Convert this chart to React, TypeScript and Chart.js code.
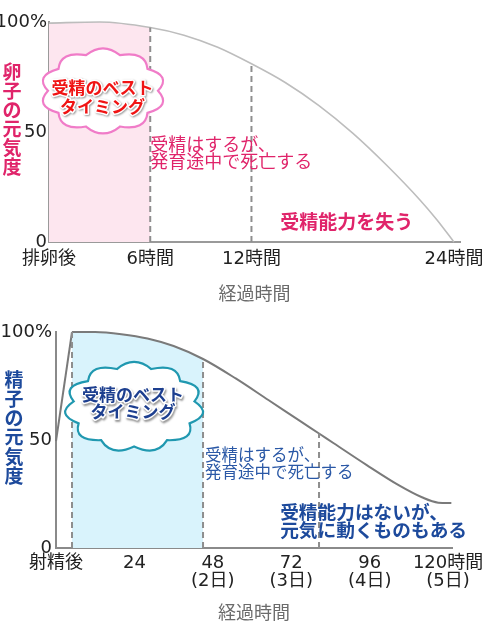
import { useEffect, useRef } from 'react';
import { Chart, registerables } from 'chart.js';

Chart.register(...registerables);

const FONT = "'Noto Sans CJK JP', 'Noto Sans', sans-serif";
const NUM_FONT = "'DejaVu Sans', 'Noto Sans CJK JP', sans-serif";
Chart.defaults.font.family = FONT;

// 卵子: 排卵後の経過時間 (h) と元気度 (%)
const eggHours = [0, 3, 6, 8, 10, 12, 14, 16, 18, 20, 22, 23, 24];
const eggVitality = [99.5, 100, 97.5, 94, 88.5, 81, 72.5, 62, 49.5, 35, 19, 10, 0];
const eggBest = [0, 6];
const eggDashHours = [6, 12];
const eggTickHours = [0, 6, 12, 24];
const eggTickLabels = ['排卵後', '6時間', '12時間', '24時間'];

// 精子: 射精後の経過時間 (h) と元気度 (%)
const spermRiseHours = [0, 4.9];
const spermRiseVitality = [49.5, 100];
const spermHours = [4.9, 12, 20, 28, 36, 45, 55, 65, 75, 80.5, 85, 95, 105, 112, 117, 121];
const spermVitality = [100, 100, 99, 97, 93.5, 87.5, 78.5, 68.5, 58.5, 53, 48.5, 38.5, 29, 23.5, 21, 20.8];
const spermBest = [4.9, 45];
const spermDashHours = [4.9, 45, 80.5];
const spermTickHours = [0, 24, 48, 72, 96, 120];
const spermTickLabels = [['射精後'], ['24'], ['48', '(2日)'], ['72', '(3日)'], ['96', '(4日)'], ['120時間', '(5日)']];

const vitalityTicks = [0, 50, 100];

const CRIMSON = '#e0246a';
const NAVY = '#1d4a9c';

const toPoints = (xs: number[], ys: number[]) => xs.map((x, i) => ({ x, y: ys[i] }));

function cloudPath(ctx: CanvasRenderingContext2D, cx: number, cy: number, rx: number, ry: number, bumps: number) {
  const start = -Math.PI / 2 - Math.PI / bumps;
  ctx.beginPath();
  for (let i = 0; i < bumps; i++) {
    const a0 = start + (i / bumps) * Math.PI * 2;
    const a1 = start + ((i + 1) / bumps) * Math.PI * 2;
    const am = (a0 + a1) / 2;
    if (i === 0) ctx.moveTo(cx + rx * Math.cos(a0), cy + ry * Math.sin(a0));
    ctx.quadraticCurveTo(
      cx + rx * 1.32 * Math.cos(am), cy + ry * 1.32 * Math.sin(am),
      cx + rx * Math.cos(a1), cy + ry * Math.sin(a1),
    );
  }
  ctx.closePath();
}

// clouds, notes and the upright vertical y title
function extrasPlugin(o: any) {
  return {
    id: 'extras',
    afterDatasetsDraw(chart: any) {
      const { ctx } = chart;
      const xs = chart.scales.x;
      const ys = chart.scales.y;
      ctx.save();

      const cx = xs.getPixelForValue(o.cloud.x);
      const cy = ys.getPixelForValue(o.cloud.y);
      cloudPath(ctx, cx, cy, o.cloud.rx, o.cloud.ry, o.cloud.bumps);
      ctx.fillStyle = '#fff';
      ctx.fill();
      ctx.lineWidth = 2.2;
      ctx.strokeStyle = o.cloud.stroke;
      ctx.stroke();

      const tx = xs.getPixelForValue(o.cloudText.x);
      const ty = ys.getPixelForValue(o.cloudText.y);
      ctx.font = `bold 17px ${FONT}`;
      ctx.textAlign = 'center';
      ctx.textBaseline = 'middle';
      o.cloudText.lines.forEach((line: string, i: number) => {
        const ly = ty + (i - (o.cloudText.lines.length - 1) / 2) * o.cloudText.gap;
        ctx.save();
        ctx.shadowColor = 'rgba(0,0,0,0.4)';
        ctx.shadowBlur = 2;
        ctx.shadowOffsetX = 1;
        ctx.shadowOffsetY = 1.5;
        ctx.lineWidth = 3;
        ctx.lineJoin = 'round';
        ctx.strokeStyle = '#fff';
        ctx.strokeText(line, tx, ly);
        ctx.restore();
        ctx.fillStyle = o.cloudText.color;
        ctx.fillText(line, tx, ly);
      });

      ctx.textAlign = 'left';
      o.notes.forEach((n: any) => {
        const nx = xs.getPixelForValue(n.x);
        const ny = ys.getPixelForValue(n.y);
        ctx.font = n.font;
        ctx.fillStyle = n.color;
        n.lines.forEach((line: string, i: number) => {
          ctx.fillText(line, nx, ny + (i - (n.lines.length - 1) / 2) * n.gap);
        });
      });

      ctx.font = `bold 19px ${FONT}`;
      ctx.textAlign = 'center';
      ctx.fillStyle = o.yTitle.color;
      Array.from(o.yTitle.text as string).forEach((ch, i) => {
        ctx.fillText(ch, o.yTitle.x, o.yTitle.top + i * o.yTitle.step);
      });
      ctx.restore();
    },
  };
}

function eggConfig(): any {
  const curve = toPoints(eggHours, eggVitality);
  return {
    type: 'line',
    data: {
      datasets: [
        ...eggDashHours.map((h) => ({
          data: [{ x: h, y: 0 }, { x: h, y: eggVitality[eggHours.indexOf(h)] }],
          borderColor: '#8e8e8e', borderWidth: 2, borderDash: [6, 4], pointRadius: 0, order: 1,
        })),
        { data: curve, borderColor: '#bdbdbd', borderWidth: 1.6, pointRadius: 0, cubicInterpolationMode: 'monotone', clip: 4, order: 2 },
        {
          data: curve.filter((p) => p.x >= eggBest[0] && p.x <= eggBest[1]),
          borderWidth: 0, pointRadius: 0, cubicInterpolationMode: 'monotone',
          fill: 'origin', backgroundColor: '#fde6ef', order: 3,
        },
      ],
    },
    options: {
      responsive: true,
      maintainAspectRatio: false,
      animation: false,
      events: [],
      layout: { padding: { left: 0, top: 22, right: 26, bottom: 0 } },
      plugins: { legend: { display: false }, tooltip: { enabled: false } },
      scales: {
        x: {
          type: 'linear', min: 0, max: 24.36,
          afterBuildTicks: (s: any) => { s.ticks = eggTickHours.map((value) => ({ value })); },
          afterFit: (s: any) => { s.height = 68; s.paddingLeft = 0; s.paddingRight = 0; },
          grid: { display: false, drawTicks: false },
          border: { display: true, color: '#9a9a9a', width: 2 },
          ticks: {
            autoSkip: false, maxRotation: 0, padding: 7, color: '#222',
            font: { family: NUM_FONT, size: 18 },
            callback: (_v: any, i: number) => eggTickLabels[i],
          },
          title: { display: true, text: '経過時間', color: '#6b6b6b', font: { family: FONT, size: 18 }, padding: { top: 0, bottom: 6 } },
        },
        y: {
          min: 0, max: 100,
          afterBuildTicks: (s: any) => { s.ticks = vitalityTicks.map((value) => ({ value })); },
          afterFit: (s: any) => { s.width = 49; s.paddingTop = 0; s.paddingBottom = 0; },
          grid: { display: false, drawTicks: false },
          border: { display: true, color: '#9a9a9a', width: 2 },
          ticks: {
            padding: 2, color: '#222', font: { family: NUM_FONT, size: 18 },
            callback: (v: number) => (v === 100 ? '100%' : String(v)),
          },
        },
      },
    },
    plugins: [extrasPlugin({
      cloud: { x: 3.2, y: 68.7, rx: 55, ry: 37.5, bumps: 10, stroke: '#f07cc8' },
      cloudText: { x: 3.17, y: 66.1, lines: ['受精のベスト', 'タイミング'], gap: 19, color: '#f01414' },
      notes: [
        { x: 6, y: 40.7, lines: ['受精はするが、', '発育途中で死亡する'], gap: 17, font: `18px ${FONT}`, color: CRIMSON },
        { x: 13.7, y: 9.1, lines: ['受精能力を失う'], gap: 0, font: `bold 19px ${FONT}`, color: CRIMSON },
      ],
      yTitle: { text: '卵子の元気度', x: 12, top: 71.5, step: 19, color: CRIMSON },
    })],
  };
}

function spermConfig(): any {
  const curve = toPoints(spermHours, spermVitality);
  return {
    type: 'line',
    data: {
      datasets: [
        ...spermDashHours.map((h) => ({
          data: [{ x: h, y: 0 }, { x: h, y: spermVitality[spermHours.indexOf(h)] }],
          borderColor: '#8e8e8e', borderWidth: 2, borderDash: [6, 4], pointRadius: 0, order: 1,
        })),
        { data: toPoints(spermRiseHours, spermRiseVitality), borderColor: '#7a7a7a', borderWidth: 2, pointRadius: 0, tension: 0, clip: 4, order: 2 },
        { data: curve, borderColor: '#7a7a7a', borderWidth: 2, pointRadius: 0, cubicInterpolationMode: 'monotone', clip: 4, order: 2 },
        {
          data: curve.filter((p) => p.x >= spermBest[0] && p.x <= spermBest[1]),
          borderWidth: 0, pointRadius: 0, cubicInterpolationMode: 'monotone',
          fill: 'origin', backgroundColor: '#d9f3fc', order: 3,
        },
      ],
    },
    options: {
      responsive: true,
      maintainAspectRatio: false,
      animation: false,
      events: [],
      layout: { padding: { left: 0, top: 22, right: 34, bottom: 0 } },
      plugins: { legend: { display: false }, tooltip: { enabled: false } },
      scales: {
        x: {
          type: 'linear', min: 0, max: 121.2,
          afterBuildTicks: (s: any) => { s.ticks = spermTickHours.map((value) => ({ value })); },
          afterFit: (s: any) => { s.height = 83; s.paddingLeft = 0; s.paddingRight = 0; },
          grid: { display: false, drawTicks: false },
          border: { display: true, color: '#8a8a8a', width: 2 },
          ticks: {
            autoSkip: false, maxRotation: 0, padding: 6, color: '#222',
            font: { family: NUM_FONT, size: 18, lineHeight: 1.02 },
            callback: (_v: any, i: number) => spermTickLabels[i],
          },
          title: { display: true, text: '経過時間', color: '#6b6b6b', font: { family: FONT, size: 18 }, padding: { top: 0, bottom: 8 } },
        },
        y: {
          min: 0, max: 100,
          afterBuildTicks: (s: any) => { s.ticks = vitalityTicks.map((value) => ({ value })); },
          afterFit: (s: any) => { s.width = 56; s.paddingTop = 0; s.paddingBottom = 0; },
          grid: { display: false, drawTicks: false },
          border: { display: true, color: '#8a8a8a', width: 2 },
          ticks: {
            padding: 4, color: '#222', font: { family: NUM_FONT, size: 18 },
            callback: (v: number) => (v === 100 ? '100%' : String(v)),
          },
        },
      },
    },
    plugins: [extrasPlugin({
      cloud: { x: 23.9, y: 65.3, rx: 61, ry: 39.5, bumps: 11, stroke: '#2098b0' },
      cloudText: { x: 23.6, y: 66.9, lines: ['受精のベスト', 'タイミング'], gap: 17, color: '#1d3f8f' },
      notes: [
        { x: 45.6, y: 39.2, lines: ['受精はするが、', '発育途中で死亡する'], gap: 16.7, font: `16.5px ${FONT}`, color: '#2a58a6' },
        { x: 68.6, y: 12.6, lines: ['受精能力はないが、', '元気に動くものもある'], gap: 18.3, font: `bold 18.7px ${FONT}`, color: NAVY },
      ],
      yTitle: { text: '精子の元気度', x: 14, top: 69.6, step: 19.2, color: NAVY },
    })],
  };
}

function Panel({ height, config }: { height: number; config: () => any }) {
  const canvasRef = useRef<HTMLCanvasElement>(null);

  useEffect(() => {
    if (!canvasRef.current) return;
    const chart = new Chart(canvasRef.current, config());
    return () => chart.destroy();
  }, [config]);

  return (
    <div style={{ position: 'relative', width: 486, height }}>
      <canvas ref={canvasRef} />
    </div>
  );
}

export default function App() {
  return (
    <div style={{ position: 'absolute', left: 0, top: 0, width: 486, background: '#fff' }}>
      <Panel height={310} config={eggConfig} />
      <Panel height={321} config={spermConfig} />
    </div>
  );
}
